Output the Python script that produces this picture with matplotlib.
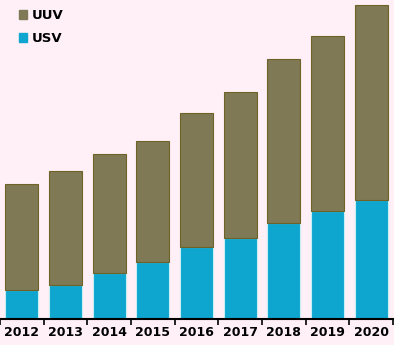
import numpy as np
import matplotlib.pyplot as plt
from matplotlib.patches import Patch

years = ['2012', '2013', '2014', '2015', '2016', '2017', '2018', '2019', '2020']
usv = [29, 34, 46, 57, 72, 81, 96, 108, 119]
uuv = [106, 114, 119, 121, 134, 146, 164, 175, 195]

bg = '#FFF0F8'
c_uuv = '#7F7A55'
c_usv = '#0EA5CF'

fig = plt.figure(figsize=(3.94, 3.45), dpi=100, facecolor=bg)
ax = fig.add_axes([0, 26 / 345, 393 / 394, 319 / 345], facecolor=bg)

x = np.arange(len(years))
ax.bar(x, usv, width=0.76, color=c_usv, edgecolor='#C8EEF5', linewidth=0.8)
ax.bar(x, uuv, bottom=usv, width=0.76, color=c_uuv, edgecolor='#6E6226', linewidth=0.8)

ax.set_xlim(-0.5, len(years) - 0.5)
ax.set_ylim(0, 319)
ax.set_yticks([])
ax.set_xticks(x)
ax.set_xticklabels(years, fontsize=9, fontweight='bold')
ax.tick_params(axis='x', which='major', length=0, pad=5)
ax.set_xticks(np.arange(-0.5, len(years)), minor=True)
ax.tick_params(axis='x', which='minor', length=4, width=1.2, direction='out')
for s in ['top', 'right', 'left']:
    ax.spines[s].set_visible(False)
ax.spines['bottom'].set_linewidth(1.5)

handles = [Patch(color=c_uuv, label='UUV'), Patch(color=c_usv, label='USV')]
ax.legend(handles=handles, loc='upper left', bbox_to_anchor=(0.018, 1.008), frameon=False,
          handlelength=0.6, handleheight=0.6, handletextpad=0.4, labelspacing=0.75,
          prop={'weight': 'bold', 'size': 9.5})

fig.savefig('out.png', facecolor=bg)
